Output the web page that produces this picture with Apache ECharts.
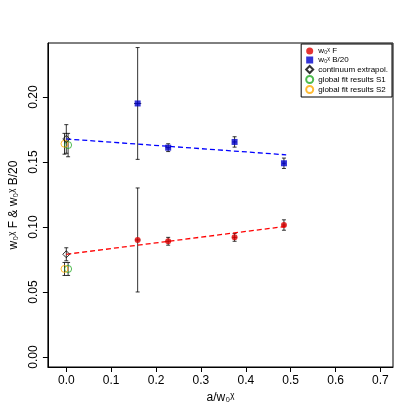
<!DOCTYPE html>
<html><head><meta charset="utf-8">
<script src="https://cdn.jsdelivr.net/npm/echarts@6/dist/echarts.min.js"></script>
<style>html,body{margin:0;background:#fff}#c{width:415px;height:415px}</style>
</head><body><div id="c"></div>
<script>
// [x, y, xerr, yerr]
var fData = [[0.159, 0.090, 0.006, 0.040], [0.227, 0.089, 0.006, 0.003], [0.375, 0.092, 0.005, 0.003], [0.485, 0.1015, 0.004, 0.004]];
var bData = [[0.159, 0.195, 0.008, 0.043], [0.227, 0.161, 0.006, 0.003], [0.375, 0.1654, 0.005, 0.004], [0.485, 0.149, 0.004, 0.004]];
var contData = [[0, 0.1677, 0, 0.011], [0, 0.079, 0, 0.005]];
var s1Data = [[0.004, 0.163, 0, 0.009], [0.004, 0.0677, 0, 0.005]];
var s2Data = [[-0.004, 0.164, 0, 0.008], [-0.004, 0.0677, 0, 0.005]];
var fitF = [[0, 0.079], [0.49, 0.1005]];
var fitB = [[0, 0.1677], [0.49, 0.1555]];
var xTicks = [0, 0.1, 0.2, 0.3, 0.4, 0.5, 0.6, 0.7];
var yTicks = [0, 0.05, 0.1, 0.15, 0.2];

var myEcharts = echarts.init(document.getElementById('c'));

function errBars(data) {
  return {
    type: 'custom', silent: true, z: 1,
    renderItem: function (params, api) {
      var x = api.value(0), y = api.value(1), ex = api.value(2), ey = api.value(3);
      var top = api.coord([x, y + ey]), bot = api.coord([x, y - ey]);
      var l = api.coord([x - ex, y]), r = api.coord([x + ex, y]);
      var st = { stroke: '#000', lineWidth: 0.8 };
      var ch = [
        { type: 'line', shape: { x1: top[0], y1: top[1], x2: bot[0], y2: bot[1] }, style: st },
        { type: 'line', shape: { x1: top[0] - 2, y1: top[1], x2: top[0] + 2, y2: top[1] }, style: st },
        { type: 'line', shape: { x1: bot[0] - 2, y1: bot[1], x2: bot[0] + 2, y2: bot[1] }, style: st }
      ];
      if (ex > 0) ch.push({ type: 'line', shape: { x1: l[0], y1: l[1], x2: r[0], y2: r[1] }, style: st });
      return { type: 'group', children: ch };
    },
    data: data
  };
}

var font = { fontSize: 12, fontFamily: 'Liberation Sans', color: '#000' };

var option = {
  animation: false,
  grid: { left: 40, right: 22, top: 43, bottom: 48, show: true, borderColor: '#000', borderWidth: 1 },
  legend: {
    right: 23, top: 44, orient: 'vertical', itemGap: 1, itemWidth: 7, itemHeight: 7,
    borderColor: '#000', borderWidth: 1, padding: [3, 4, 3, 4], borderRadius: 0,
    textStyle: { fontSize: 8, fontFamily: 'Liberation Sans', color: '#000' },
    data: [
      { name: 'w₀ᵡ F', icon: 'circle' },
      { name: 'w₀ᵡ B/20', icon: 'rect' },
      { name: 'continuum extrapol.', icon: 'diamond' },
      { name: 'global fit results S1', icon: 'circle' },
      { name: 'global fit results S2', icon: 'circle' }
    ]
  },
  xAxis: {
    type: 'value', min: -0.041, max: 0.728,
    name: 'a/w₀ᵡ', nameLocation: 'middle', nameGap: 25, nameTextStyle: font,
    axisLine: { show: true, onZero: false, lineStyle: { color: '#000' } }, splitLine: { show: false },
    axisTick: { show: true, length: 5, lineStyle: { color: '#000' }, customValues: xTicks },
    axisLabel: Object.assign({ margin: 8, customValues: xTicks, formatter: function (v) { return v.toFixed(1); } }, font)
  },
  yAxis: {
    type: 'value', min: -0.0077, max: 0.2415,
    name: 'w₀ᵡ F & w₀ᵡ B/20', nameLocation: 'middle', nameGap: 26, nameRotate: 90, nameTextStyle: font,
    axisLine: { show: true, onZero: false, lineStyle: { color: '#000' } }, splitLine: { show: false },
    axisTick: { show: true, length: 5, lineStyle: { color: '#000' }, customValues: yTicks },
    axisLabel: Object.assign({ rotate: 90, margin: 8, customValues: yTicks, formatter: function (v) { return v.toFixed(2); } }, font)
  },
  series: [
    { type: 'line', data: fitF, symbol: 'none', lineStyle: { color: '#ff0000', type: [5, 3], width: 1.3 }, silent: true },
    { type: 'line', data: fitB, symbol: 'none', lineStyle: { color: '#0000ff', type: [5, 3], width: 1.3 }, silent: true },
    errBars(fData), errBars(bData), errBars(contData), errBars(s1Data), errBars(s2Data),
    { name: 'w₀ᵡ F', type: 'scatter', symbol: 'circle', symbolSize: 6, itemStyle: { color: '#dd0000' }, z: 3, data: fData },
    { name: 'w₀ᵡ B/20', type: 'scatter', symbol: 'rect', symbolSize: 6, itemStyle: { color: '#0000cc' }, z: 3, data: bData },
    { name: 'continuum extrapol.', type: 'scatter', symbol: 'diamond', symbolSize: 7, itemStyle: { color: 'rgba(255,255,255,0)', borderColor: '#000', borderWidth: 1 }, z: 4, data: contData },
    { name: 'global fit results S1', type: 'scatter', symbol: 'circle', symbolSize: 7, itemStyle: { color: 'rgba(255,255,255,0)', borderColor: '#22aa22', borderWidth: 1 }, z: 3, data: s1Data },
    { name: 'global fit results S2', type: 'scatter', symbol: 'circle', symbolSize: 7, itemStyle: { color: 'rgba(255,255,255,0)', borderColor: '#ffaa00', borderWidth: 1 }, z: 3, data: s2Data }
  ]
};
myEcharts.setOption(option);
</script></body></html>
